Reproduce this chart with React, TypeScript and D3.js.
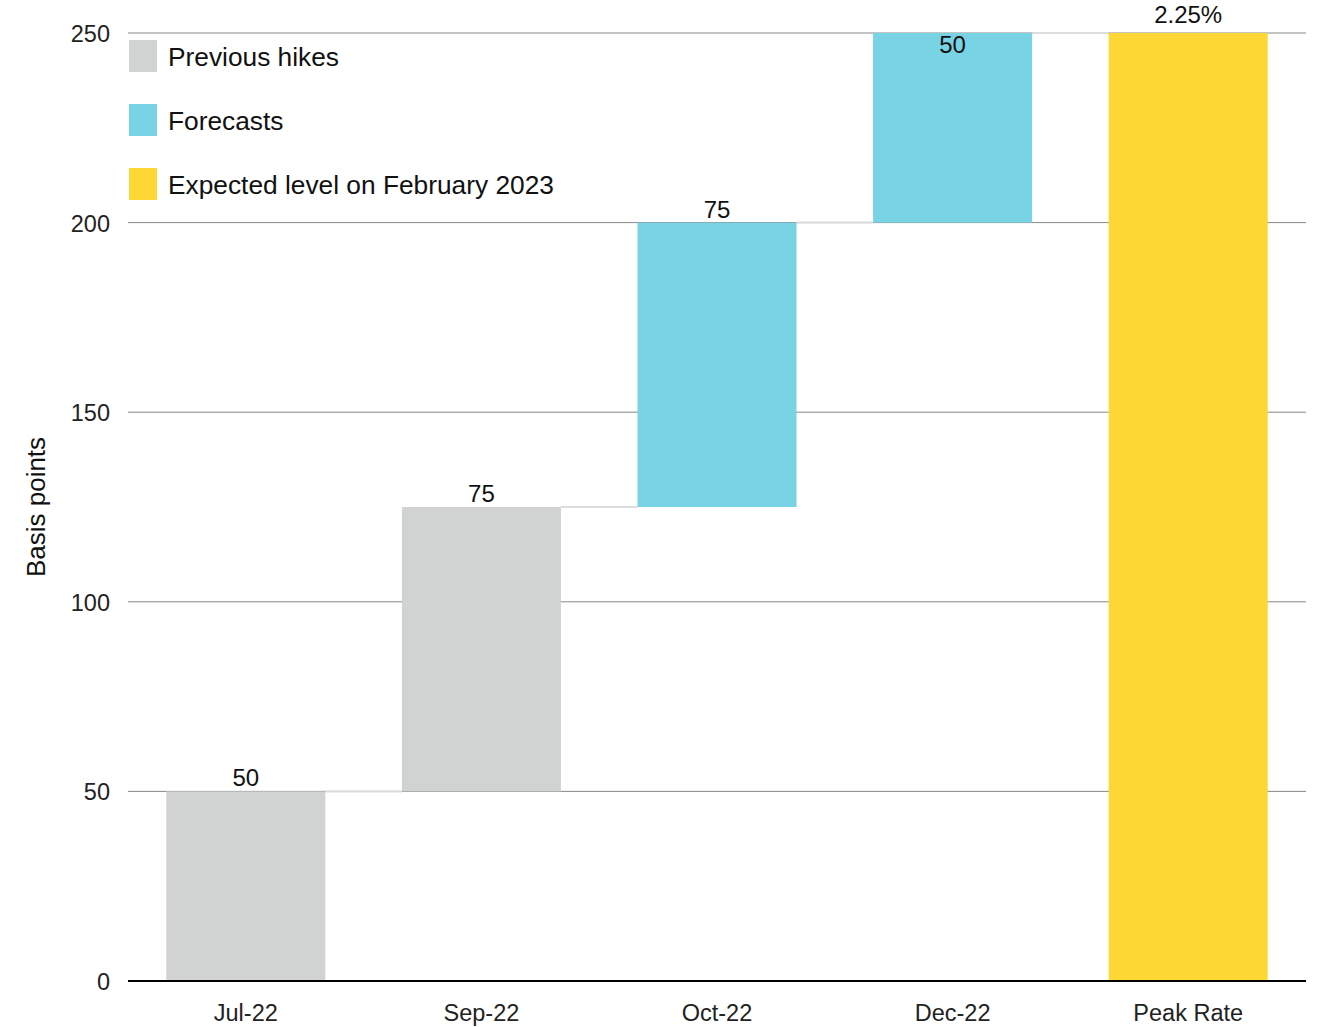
import React from "react";
import * as d3 from "d3";

const categories = ["Jul-22", "Sep-22", "Oct-22", "Dec-22", "Peak Rate"];
const increments = [50, 75, 75, 50, 250];
const barLabels = ["50", "75", "75", "50", "2.25%"];
const labelInside = [false, false, false, true, false];
const barKinds = ["prev", "prev", "fcst", "fcst", "total"];
const yTicks = [0, 50, 100, 150, 200, 250];
const legendItems = ["Previous hikes", "Forecasts", "Expected level on February 2023"];
const legendKinds = ["prev", "fcst", "total"];

const colors: Record<string, string> = {
  prev: "#d1d3d2",
  fcst: "#78d3e5",
  total: "#fdd835",
};

const W = 1321;
const H = 1027;
const M = { left: 128, right: 15, top: 33, bottom: 46 };

export default function App() {
  const x = d3
    .scaleBand<string>()
    .domain(categories)
    .range([M.left, W - M.right])
    .paddingInner(0.325)
    .paddingOuter(0.1625);
  const y = d3.scaleLinear().domain([0, 250]).range([H - M.bottom, M.top]);

  let run = 0;
  const bars = categories.map((c, i) => {
    if (barKinds[i] === "total") {
      return { c, start: 0, end: increments[i], kind: barKinds[i], label: barLabels[i], inside: labelInside[i] };
    }
    const start = run;
    run += increments[i];
    return { c, start, end: run, kind: barKinds[i], label: barLabels[i], inside: labelInside[i] };
  });

  const font = "Liberation Sans, Arial, Helvetica, sans-serif";

  return (
    <svg width={W} height={H} style={{ position: "absolute", left: 0, top: 0, background: "#fff" }} fontFamily={font}>
      {yTicks.filter((t) => t > 0).map((t) => (
        <line key={t} x1={M.left} x2={W - M.right} y1={y(t)} y2={y(t)} stroke="#888" strokeWidth={1} />
      ))}
      {bars.slice(0, -1).map((b, i) => {
        const nb = bars[i + 1];
        return (
          <line
            key={"c" + i}
            x1={(x(b.c) as number) + x.bandwidth()}
            x2={x(nb.c) as number}
            y1={y(b.end)}
            y2={y(b.end)}
            stroke="#dcdcdc"
            strokeWidth={2}
          />
        );
      })}
      {bars.map((b) => (
        <rect
          key={b.c}
          x={x(b.c)}
          width={x.bandwidth()}
          y={y(b.end)}
          height={y(b.start) - y(b.end)}
          fill={colors[b.kind]}
        />
      ))}
      {bars.map((b) => (
        <text
          key={"l" + b.c}
          x={(x(b.c) as number) + x.bandwidth() / 2}
          y={b.inside ? y(b.end) + 20 : y(b.end) - (b.kind === "total" ? 10 : 5)}
          textAnchor="middle"
          fontSize={24}
          fill="#111"
        >
          {b.label}
        </text>
      ))}
      <line x1={M.left} x2={W - M.right} y1={y(0)} y2={y(0)} stroke="#000" strokeWidth={2} />
      {yTicks.map((t) => (
        <text key={"t" + t} x={110} y={y(t) + 9} textAnchor="end" fontSize={23.5} fill="#222">
          {t}
        </text>
      ))}
      {categories.map((c) => (
        <text
          key={"x" + c}
          x={(x(c) as number) + x.bandwidth() / 2}
          y={1021}
          textAnchor="middle"
          fontSize={23.5}
          fill="#222"
        >
          {c}
        </text>
      ))}
      <text transform={`translate(45, ${(y(0) + y(250)) / 2}) rotate(-90)`} textAnchor="middle" fontSize={26} fill="#111">
        Basis points
      </text>
      {legendItems.map((l, i) => (
        <g key={l} transform={`translate(129, ${40 + i * 64})`}>
          <rect width={28} height={32} fill={colors[legendKinds[i]]} />
          <text x={39} y={26} fontSize={26.3} fill="#111">
            {l}
          </text>
        </g>
      ))}
    </svg>
  );
}
